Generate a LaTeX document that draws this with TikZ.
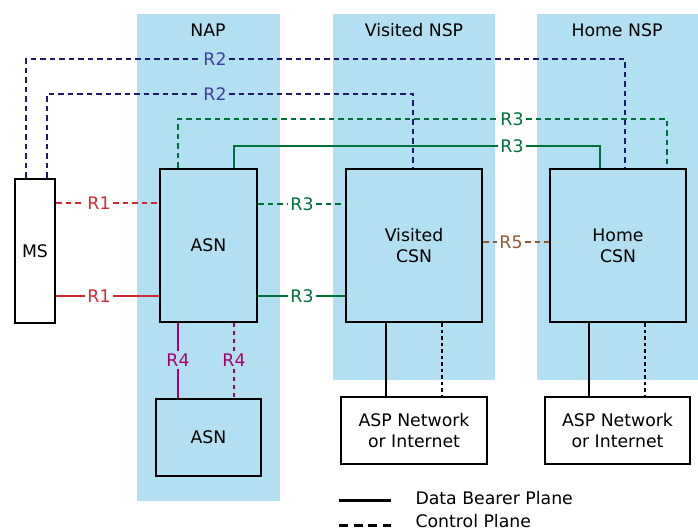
\documentclass[tikz,border=0pt]{standalone}
\usepackage{fontspec}
\setmainfont{DejaVu Sans}
\usetikzlibrary{calc}
\definecolor{zoneblue}{RGB}{179,223,242}
\definecolor{rtwo}{RGB}{30,26,105}
\definecolor{rtwotext}{RGB}{62,62,160}
\definecolor{rthree}{RGB}{0,112,58}
\definecolor{rone}{RGB}{214,40,52}
\definecolor{rfour}{RGB}{165,0,105}
\definecolor{rfive}{RGB}{140,90,50}
\tikzset{
  every node/.style={font=\fontsize{17.3}{21}\selectfont},
  zone/.style={fill=zoneblue,draw=none},
  box/.style={draw,line width=2.6pt,fill=zoneblue,align=center,inner sep=0pt},
  whitebox/.style={box,fill=white},
  lbl/.style={inner sep=2.5pt},
  ctrl/.style={line width=2.3pt,dash pattern=on 5.5pt off 4pt},
  data/.style={line width=2.3pt},
  dotline/.style={line width=1.8pt,dash pattern=on 3.5pt off 3pt},
}

\begin{document}
\begin{tikzpicture}[x=1pt,y=-1pt]
\useasboundingbox (0,0) rectangle (698,532);

% zones
\fill[zone] (137,14) rectangle (280,501);
\fill[zone] (333,14) rectangle (495,380);
\fill[zone] (537,14) rectangle (698,380);
\node (nap) at (208,30) {NAP};
\node (vnsp) at (414,30) {Visited NSP};
\node (hnsp) at (617,30) {Home NSP};

% boxes
\node[whitebox,minimum width=40pt,minimum height=144pt] (ms) at (35,251) {MS};
\node[box,minimum width=97pt,minimum height=153pt] (asn) at (208.5,245.5) {ASN};
\node[box,minimum width=136pt,minimum height=153pt] (vcsn) at (414,245.5) {Visited\\CSN};
\node[box,minimum width=136pt,minimum height=153pt] (hcsn) at (618,245.5) {Home\\CSN};
\node[box,minimum width=105pt,minimum height=77pt] (asntwo) at (208.5,437.5) {ASN};
\node[whitebox,minimum width=146pt,minimum height=67pt] (vasp) at (414,430.5) {ASP Network\\or Internet};
\node[whitebox,minimum width=145pt,minimum height=67pt] (hasp) at (617.5,430.5) {ASP Network\\or Internet};

% R2
\node[lbl,text=rtwotext] (rtwoa) at (215,59) {R2};
\node[lbl,text=rtwotext] (rtwob) at (215,94) {R2};
\draw[ctrl,rtwo] ([xshift=-9pt]ms.north) |- (rtwoa) -| ([xshift=7pt]hcsn.north);
\draw[ctrl,rtwo] ([xshift=12pt]ms.north) |- (rtwob) -| ([xshift=-1pt]vcsn.north);

% R3
\node[lbl,text=rthree] (rthreea) at (512,119) {R3};
\node[lbl,text=rthree] (rthreeb) at (512,146) {R3};
\node[lbl,text=rthree] (rthreec) at (302,204) {R3};
\node[lbl,text=rthree] (rthreed) at (302,296) {R3};
\draw[ctrl,rthree] ([xshift=-30.5pt]asn.north) |- (rthreea) -| ([xshift=49pt]hcsn.north);
\draw[data,rthree] ([xshift=25.5pt]asn.north) |- (rthreeb) -| ([xshift=-18pt]hcsn.north);
\draw[ctrl,rthree] (asn.east |- rthreec) -- (rthreec) -- (vcsn.west |- rthreec);
\draw[data,rthree] (asn.east |- rthreed) -- (rthreed) -- (vcsn.west |- rthreed);

% R1
\node[lbl,text=rone] (ronea) at (99,203) {R1};
\node[lbl,text=rone] (roneb) at (99,296) {R1};
\draw[ctrl,rone] (ms.east |- ronea) -- (ronea) -- (asn.west |- ronea);
\draw[data,rone] (ms.east |- roneb) -- (roneb) -- (asn.west |- roneb);

% R4
\node[lbl,text=rfour] (rfoura) at (178,360) {R4};
\node[lbl,text=rfour] (rfourb) at (234,360) {R4};
\draw[data,rfour] (asn.south -| rfoura) -- (rfoura) -- (asntwo.north -| rfoura);
\draw[ctrl,rfour,dash pattern=on 4pt off 4pt] (asn.south -| rfourb) -- (rfourb) -- (asntwo.north -| rfourb);

% R5
\node[lbl,text=rfive] (rfive) at (511,242) {R5};
\draw[ctrl,rfive] (vcsn.east |- rfive) -- (rfive) -- (hcsn.west |- rfive);

% to ASP
\draw[line width=1.7pt] ([xshift=-28pt]vcsn.south) -- ([xshift=-28pt]vasp.north);
\draw[dotline] ([xshift=28pt]vcsn.south) -- ([xshift=28pt]vasp.north);
\draw[line width=1.7pt] ([xshift=-29pt]hcsn.south) -- ([xshift=-28.5pt]hasp.north);
\draw[dotline] ([xshift=27pt]hcsn.south) -- ([xshift=27.5pt]hasp.north);

% legend
\coordinate (la) at (339,500);
\coordinate (lb) at (339,525);
\draw[line width=3pt] (la) -- ++(52,0);
\draw[line width=3pt,dash pattern=on 9pt off 5.5pt] (lb) -- ++(52,0);
\node[anchor=west] (ldata) at (412,498) {Data Bearer Plane};
\node[anchor=west] (lctrl) at (412,521) {Control Plane};
\end{tikzpicture}
\end{document}
